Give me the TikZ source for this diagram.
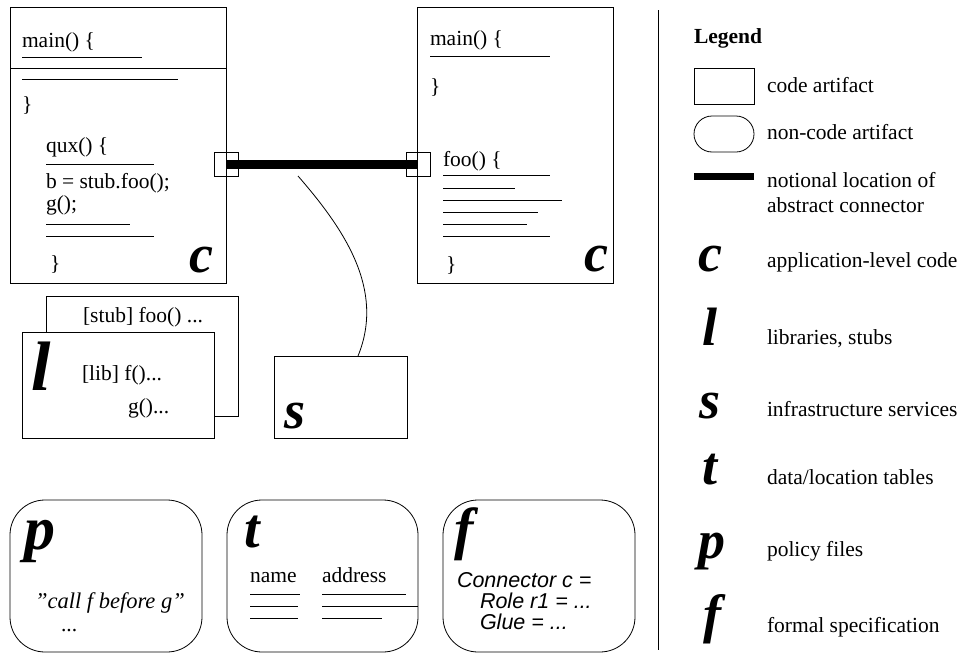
\documentclass[tikz,border=0pt]{standalone}
\usepackage{fontspec}
\setmainfont{Liberation Serif}
\setsansfont{Liberation Sans}
\begin{document}
\begin{tikzpicture}[x=1pt,y=-1pt,line width=0.8pt,
  txt/.style={anchor=base west,inner sep=0,outer sep=0,font=\fontsize{21.5}{24}\selectfont},
  sftxt/.style={anchor=base west,inner sep=0,outer sep=0,font=\fontsize{21.5}{24}\selectfont\sffamily\itshape},
  bigletter/.style={anchor=base west,inner sep=0,outer sep=0,font=\fontsize{#1}{#1}\selectfont\bfseries\itshape},
  legletter/.style={anchor=base,inner sep=0,outer sep=0,font=\fontsize{54}{54}\selectfont\bfseries\itshape},
  box/.style={draw,line width=0.8pt,inner sep=0,outer sep=0,fill=white,anchor=north west},
  rbox/.style={box,rounded corners=35pt},
  port/.style={draw,line width=0.8pt,inner sep=0,minimum size=24pt},
  bar/.style={line width=9pt},
  codeline/.style={line width=0.8pt}]
\useasboundingbox (0,0) rectangle (960,656);

% ---------- left code box ----------
\node[box,minimum width=216pt,minimum height=276pt] (c1) at (10,7) {};
\draw[codeline] (22,57) -- (142,57);
\draw[codeline] (c1.west |- 0,68) -- (c1.east |- 0,68);
\draw[codeline] (22,79) -- (178,79);
\node[txt] (c1main) at (22,47) {main() \{};
\node[txt] (c1close) at (22,111) {\}};
\node[txt] (c1qux) at (46,152) {qux() \{};
\draw[codeline] (46,164) -- (154,164);
\node[txt] (c1b) at (46,188) {b = stub.foo();};
\node[txt] (c1g) at (46,210) {g();};
\draw[codeline] (46,224) -- (130,224);
\draw[codeline] (46,236) -- (154,236);
\node[txt] (c1close2) at (50,270) {\}};
\node[bigletter=54] (c1c) at (189,272) {c};

% ---------- right code box ----------
\node[box,minimum width=196pt,minimum height=276pt] (c2) at (417,7) {};
\node[txt] (c2main) at (430,45) {main() \{};
\draw[codeline] (430,56) -- (550,56);
\node[txt] (c2close) at (430,93) {\}};
\node[txt] (c2foo) at (443,166) {foo() \{};
\draw[codeline] (443,175) -- (550,175);
\draw[codeline] (443,188) -- (515,188);
\draw[codeline] (443,200) -- (562,200);
\draw[codeline] (443,212) -- (538,212);
\draw[codeline] (443,224) -- (527,224);
\draw[codeline] (443,236) -- (550,236);
\node[txt] (c2close2) at (446,271) {\}};
\node[bigletter=54] (c2c) at (584,271) {c};

% ---------- abstract connector ----------
\node[port] (pl) at (226,164) {};
\node[port] (pr) at (418,164) {};
\draw[bar] (pl.center) -- (pr.center);
\node[port] at (pl) {};
\node[port] at (pr) {};

% ---------- library boxes ----------
\node[box,minimum width=192pt,minimum height=120pt] (lback) at (46,296) {};
\node[txt] (stub) at (83,322) {[stub] foo() ...};
\node[box,minimum width=192pt,minimum height=106pt] (lfront) at (22,332) {};
\node[txt] (lib) at (82,380) {[lib] f()...};
\node[txt] (libg) at (128,413) {g()...};
\node[bigletter=70] (lletter) at (31,390) {l};

% ---------- service box ----------
\node[box,minimum width=133pt,minimum height=82pt] (s) at (274,356) {};
\node[bigletter=54] (sletter) at (284,428) {s};
\coordinate (cs) at (298,176);
\coordinate (se) at (358,356);
\draw (cs) .. controls (345,230) and (385,290) .. (se);

% ---------- bottom non-code boxes ----------
\node[rbox,minimum width=192pt,minimum height=152pt] (pbox) at (10,500) {};
\node[bigletter=62] (pletter) at (24,549) {p};
\node[txt,font=\fontsize{22.5}{25}\selectfont\itshape] (ptext) at (35,608) {\symbol{34}call f before g\symbol{34}};
\node[txt] (pdots) at (61,631) {...};

\node[rbox,minimum width=191pt,minimum height=152pt] (tbox) at (227,500) {};
\node[bigletter=56] (tletter) at (244,547) {t};
\node[txt] (tname) at (250,582) {name};
\node[txt] (taddr) at (322,582) {address};
\draw[codeline] (250,594) -- (300,594);
\draw[codeline] (250,606) -- (298,606);
\draw[codeline] (250,618) -- (298,618);
\draw[codeline] (322,594) -- (406,594);
\draw[codeline] (322,606) -- (tbox.east |- 0,606);
\draw[codeline] (322,618) -- (382,618);

\node[rbox,minimum width=192pt,minimum height=152pt] (fbox) at (443,500) {};
\node[bigletter=58] (fletter) at (454,548) {f};
\node[sftxt] (f1) at (457,587) {Connector c =};
\node[sftxt] (f2) at (480,608) {Role r1 = ...};
\node[sftxt] (f3) at (480,629) {Glue = ...};

% ---------- legend ----------
\coordinate (sept) at (658,10);
\coordinate (sepb) at (658,650);
\draw (sept) -- (sepb);
\node[txt,font=\fontsize{21.5}{24}\selectfont\bfseries] (legtitle) at (694,43) {Legend};
\node[box,minimum width=60pt,minimum height=36pt] (legrect) at (694,68) {};
\node[txt] (legrectt) at (767,92) {code artifact};
\node[box,rounded corners=18pt,minimum width=60pt,minimum height=36pt] (legrnd) at (694,116) {};
\node[txt] (legrndt) at (767,139) {non-code artifact};
\coordinate (lbar1) at (694,176);
\coordinate (lbar2) at (754,176);
\draw[line width=7pt] (lbar1) -- (lbar2);
\node[txt] (legbar1) at (767,187) {notional location of};
\node[txt] (legbar2) at (767,212) {abstract connector};

\node[legletter] (lc) at (710,271) {c};
\node[txt] (lct) at (767,267) {application-level code};
\node[legletter] (ll) at (710,345) {l};
\node[txt] (llt) at (767,344) {libraries, stubs};
\node[legletter] (ls) at (710,418) {s};
\node[txt] (lst) at (767,416) {infrastructure services};
\node[legletter] (lt) at (710,484) {t};
\node[txt] (ltt) at (767,484) {data/location tables};
\node[legletter] (lp) at (712,558) {p};
\node[txt] (lpt) at (767,556) {policy files};
\node[legletter] (lf) at (712,632) {f};
\node[txt] (lft) at (767,632) {formal specification};
\end{tikzpicture}
\end{document}
